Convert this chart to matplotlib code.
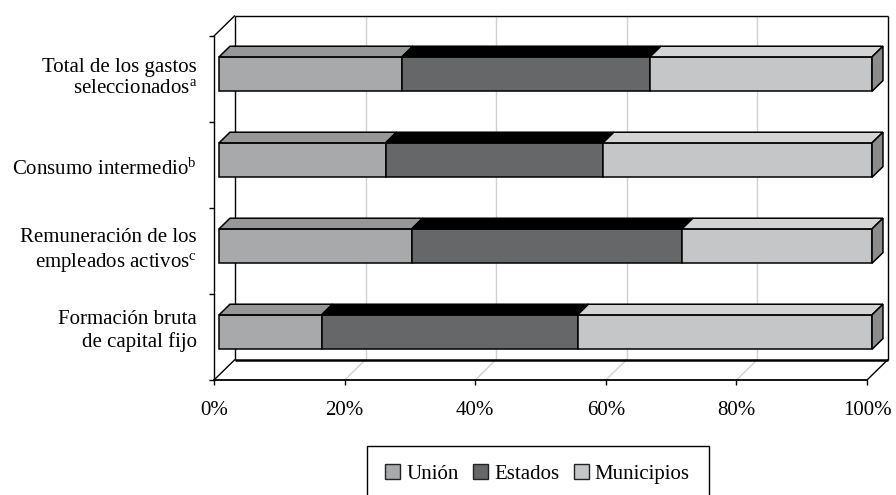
import matplotlib
matplotlib.use('Agg')
import matplotlib.pyplot as plt
from matplotlib.patches import Patch

plt.rcParams['font.family'] = 'Liberation Serif'
plt.rcParams['mathtext.fontset'] = 'custom'
plt.rcParams['mathtext.rm'] = 'Liberation Serif'
plt.rcParams['mathtext.it'] = 'Liberation Serif:italic'

categories = ['Total de los gastos\nseleccionados$^{\\mathrm{a}}$',
              'Consumo intermedio$^{\\mathrm{b}}$',
              'Remuneración de los\nempleados activos$^{\\mathrm{c}}$',
              'Formación bruta\nde capital fijo']
series = ['Unión', 'Estados', 'Municipios']
union = [28.0, 25.5, 29.5, 15.7]
estados = [38.0, 33.3, 41.4, 39.2]
municipios = [34.0, 41.2, 29.1, 45.1]
xticks = [0, 20, 40, 60, 80, 100]

front_cols = ['#a8a9ab', '#666769', '#c5c6c8']
top_cols = ['#979797', '#000000', '#d4d4d4']
side_col = '#8c8c8c'

W, H = 896, 495
fig = plt.figure(figsize=(W / 100, H / 100), dpi=100)
ax = fig.add_axes([214 / W, 1 - 380 / H, 653 / W, 344 / H])
ax.set_xlim(0, 100)
ax.set_ylim(3.5, -0.5)
ax.patch.set_alpha(0)

# oblique depth of the 3-D box, in pixels
DX, DY = 21, 20.5
px_x = 653 / 100
px_y = 344 / 4


def depth(x, y, d):
    return x + d * DX / px_x, y - d * DY / px_y


# back wall and floor gridlines
for v in xticks[1:-1]:
    xb, yt = depth(v, -0.5, 1)
    _, yb = depth(v, 3.5, 1)
    ax.plot([xb, xb], [yt, yb], color='#d0d0d0', lw=1, zorder=1, clip_on=False)
    ax.plot([v, xb], [3.5, yb], color='#d0d0d0', lw=1, zorder=1, clip_on=False)


# box frame
def seg(p, q, lw=1.0):
    ax.plot([p[0], q[0]], [p[1], q[1]], color='black', lw=lw, zorder=2,
            clip_on=False, solid_capstyle='butt')


seg(depth(0, -0.5, 1), depth(0, 3.5, 1))
seg(depth(0, -0.5, 1), depth(100, -0.5, 1))
seg(depth(100, -0.5, 1), depth(100, 3.5, 1))
seg(depth(0, 3.5, 1), depth(100, 3.5, 1), lw=1.8)
seg(depth(0, -0.5, 0), depth(0, -0.5, 1))
seg(depth(0, 3.5, 0), depth(0, 3.5, 1))
seg(depth(100, 3.5, 0), depth(100, 3.5, 1))

# stacked 3-D bars
D0, D1 = 0.24, 0.76
BAR_H = 0.4
data = [union, estados, municipios]
for i in range(len(categories)):
    left = 0
    ytop = i - BAR_H / 2
    ybot = i + BAR_H / 2
    for k, vals in enumerate(data):
        w = vals[i]
        x0, y0 = depth(left, i, D0)
        ax.barh(y0, w, left=x0, height=BAR_H, color=front_cols[k],
                edgecolor='black', lw=1.1, zorder=4, clip_on=False)
        p1 = depth(left, ytop, D0)
        p2 = depth(left + w, ytop, D0)
        p3 = depth(left + w, ytop, D1)
        p4 = depth(left, ytop, D1)
        ax.fill([p1[0], p2[0], p3[0], p4[0]], [p1[1], p2[1], p3[1], p4[1]],
                facecolor=top_cols[k], edgecolor='black', lw=1.1, zorder=4,
                clip_on=False)
        left += w
    s1 = depth(left, ytop, D0)
    s2 = depth(left, ybot, D0)
    s3 = depth(left, ybot, D1)
    s4 = depth(left, ytop, D1)
    ax.fill([s1[0], s2[0], s3[0], s4[0]], [s1[1], s2[1], s3[1], s4[1]],
            facecolor=side_col, edgecolor='black', lw=1.1, zorder=4,
            clip_on=False)

# axes
for s in ['top', 'right']:
    ax.spines[s].set_visible(False)
ax.spines['bottom'].set_linewidth(1.3)
ax.spines['left'].set_linewidth(1.0)
ax.set_xticks(xticks)
ax.set_xticklabels([f'{v}%' for v in xticks], fontsize=15)
ax.set_yticks([-0.5, 0.5, 1.5, 2.5, 3.5])
ax.set_yticklabels([])
ax.tick_params(axis='both', direction='out', length=3.8, width=1, color='black')
ax.tick_params(axis='x', pad=11)

# category labels, nudged vertically (pixels)
label_dy = [1, -4, 0, 6]
for i, lab in enumerate(categories):
    ax.annotate(lab, xy=(0, i), xytext=(-17, label_dy[i]), textcoords='offset pixels',
                ha='right', va='center', fontsize=15, linespacing=1.2)

handles = [Patch(facecolor=front_cols[k], edgecolor='#222222', lw=1) for k in range(3)]
leg = fig.legend(handles=handles, labels=series, loc='upper left',
                 bbox_to_anchor=(366.7 / W, 1 - 445.7 / H), ncol=3, frameon=True,
                 fancybox=False, edgecolor='black', framealpha=1, fontsize=15,
                 handlelength=0.72, handleheight=0.72, handletextpad=0.27,
                 columnspacing=0.72, borderpad=0.9, borderaxespad=0)
leg.get_frame().set_linewidth(1)

fig.savefig('out.png', dpi=100)
